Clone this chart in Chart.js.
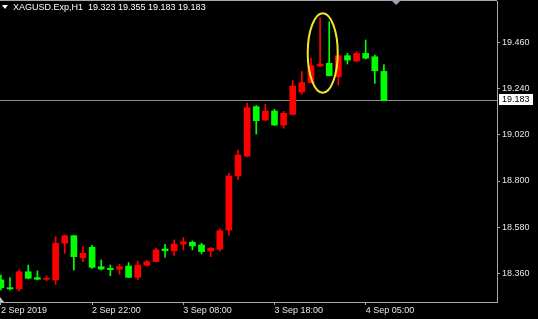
<!DOCTYPE html>
<html>
<head>
<meta charset="utf-8">
<script src="https://cdn.jsdelivr.net/npm/chart.js@4.4.1/dist/chart.umd.min.js"></script>
<style>
html, body { margin: 0; padding: 0; background: #000; }
#wrap { width: 538px; height: 319px; }
</style>
</head>
<body>
<div id="wrap"><canvas id="candleChart" width="538" height="319"></canvas></div>
<script>
// XAGUSD H1 bars
var symbolName = 'XAGUSD.Exp,H1';
var openPrices  = [18.328, 18.291, 18.285, 18.367, 18.339, 18.331, 18.328, 18.503, 18.539, 18.434, 18.484, 18.391, 18.383, 18.379, 18.394, 18.340, 18.398, 18.415, 18.476, 18.467, 18.499, 18.508, 18.495, 18.466, 18.474, 18.566, 18.824, 18.919, 19.155, 19.091, 19.134, 19.067, 19.118, 19.225, 19.269, 19.349, 19.362, 19.298, 19.398, 19.373, 19.409, 19.393, 19.323];
var highPrices  = [18.351, 18.339, 18.375, 18.399, 18.371, 18.347, 18.534, 18.542, 18.541, 18.487, 18.493, 18.423, 18.399, 18.403, 18.411, 18.418, 18.421, 18.479, 18.498, 18.519, 18.530, 18.514, 18.503, 18.483, 18.571, 18.837, 18.948, 19.171, 19.160, 19.166, 19.142, 19.132, 19.279, 19.322, 19.386, 19.579, 19.560, 19.401, 19.409, 19.417, 19.473, 19.401, 19.355];
var lowPrices   = [18.280, 18.280, 18.275, 18.333, 18.328, 18.323, 18.307, 18.455, 18.375, 18.415, 18.383, 18.375, 18.348, 18.355, 18.339, 18.328, 18.394, 18.414, 18.436, 18.444, 18.471, 18.471, 18.452, 18.439, 18.466, 18.542, 18.808, 18.915, 19.024, 19.089, 19.065, 19.052, 19.115, 19.214, 19.268, 19.346, 19.301, 19.258, 19.358, 19.368, 19.382, 19.266, 19.183];
var closePrices = [18.291, 18.285, 18.367, 18.336, 18.331, 18.336, 18.503, 18.539, 18.439, 18.455, 18.388, 18.380, 18.377, 18.391, 18.340, 18.399, 18.415, 18.471, 18.467, 18.499, 18.510, 18.490, 18.463, 18.479, 18.563, 18.824, 18.924, 19.150, 19.088, 19.134, 19.067, 19.123, 19.253, 19.270, 19.350, 19.358, 19.303, 19.398, 19.377, 19.409, 19.386, 19.326, 19.183];

var timeTickBars   = [0, 10, 20, 30, 40];
var timeTickLabels = ['2 Sep 2019', '2 Sep 22:00', '3 Sep 08:00', '3 Sep 18:00', '4 Sep 05:00'];
var priceTicks     = [18.360, 18.580, 18.800, 19.020, 19.240, 19.460];

// the yellow mark round the two long upper wicks (bar index / price)
var markCenter = { x: 35.29, y: 19.411 };
var markRadius = { x: 1.645, y: 0.1894 };

var UP_COLOR = '#ff0000';
var DOWN_COLOR = '#00ff00';
var AXIS_COLOR = '#a8a8a8';
var BID_LINE_COLOR = '#8c8c8c';
var TEXT_COLOR = '#e6e6e6';
var FONT = { family: '"Liberation Sans", Arial, sans-serif', size: 9 };

var bodies = [], wicks = [], colors = [];
for (var i = 0; i < openPrices.length; i++) {
    bodies.push({ x: i, y: [openPrices[i], closePrices[i]] });
    wicks.push({ x: i, y: [lowPrices[i], highPrices[i]] });
    colors.push(closePrices[i] >= openPrices[i] ? UP_COLOR : DOWN_COLOR);
}
var lastPrice = closePrices[closePrices.length - 1];

var terminalPlugin = {
    id: 'terminal',
    beforeDraw: function (chart) {
        var c = chart.ctx;
        c.save();
        c.fillStyle = '#000';
        c.fillRect(0, 0, chart.width, chart.height);
        c.restore();
    },
    beforeDatasetsDraw: function (chart) {
        var c = chart.ctx, a = chart.chartArea;
        var y = Math.floor(chart.scales.y.getPixelForValue(lastPrice)) + 0.5;
        c.save();
        c.strokeStyle = BID_LINE_COLOR;
        c.lineWidth = 1;
        c.beginPath();
        c.moveTo(a.left, y);
        c.lineTo(a.right, y);
        c.stroke();
        c.restore();
    },
    afterDraw: function (chart) {
        var c = chart.ctx, a = chart.chartArea;
        var xs = chart.scales.x, ys = chart.scales.y;
        c.save();

        // top frame line
        c.strokeStyle = AXIS_COLOR;
        c.lineWidth = 1;
        c.beginPath();
        c.moveTo(a.left, 0.5);
        c.lineTo(a.right, 0.5);
        c.stroke();

        // yellow ellipse
        var cx = xs.getPixelForValue(markCenter.x);
        var cy = ys.getPixelForValue(markCenter.y);
        var rx = xs.getPixelForValue(markCenter.x + markRadius.x) - cx;
        var ry = cy - ys.getPixelForValue(markCenter.y + markRadius.y);
        c.strokeStyle = '#f2e827';
        c.lineWidth = 2;
        c.beginPath();
        c.ellipse(cx, cy, rx, ry, 0, 0, Math.PI * 2);
        c.stroke();

        // bid price label
        var py = Math.floor(ys.getPixelForValue(lastPrice));
        c.fillStyle = '#ffffff';
        c.fillRect(a.right + 2, py - 6, 34, 11);
        c.fillStyle = '#000000';
        c.font = FONT.size + 'px ' + FONT.family;
        c.textBaseline = 'middle';
        c.textAlign = 'left';
        c.fillText(lastPrice.toFixed(3), a.right + 5, py);

        // symbol header
        c.fillStyle = '#ffffff';
        c.beginPath();
        c.moveTo(2, 5);
        c.lineTo(8, 5);
        c.lineTo(5, 9);
        c.closePath();
        c.fill();
        c.fillText(symbolName + '  ' + openPrices[openPrices.length - 1].toFixed(3) + ' ' +
            highPrices[highPrices.length - 1].toFixed(3) + ' ' +
            lowPrices[lowPrices.length - 1].toFixed(3) + ' ' + lastPrice.toFixed(3), 13, 8);

        // chart shift markers
        var sx = xs.getPixelForValue(43.33);
        c.fillStyle = '#9aa4b4';
        c.beginPath();
        c.moveTo(sx - 5, 0);
        c.lineTo(sx + 5, 0);
        c.lineTo(sx, 5);
        c.closePath();
        c.fill();
        c.fillStyle = '#c8c8c8';
        c.beginPath();
        c.moveTo(0, a.bottom - 5);
        c.lineTo(4, a.bottom);
        c.lineTo(0, a.bottom);
        c.closePath();
        c.fill();
        c.restore();
    }
};

var ctx = document.getElementById('candleChart').getContext('2d');

var chart = new Chart(ctx, {
    type: 'bar',
    data: {
        datasets: [{
            label: 'body',
            data: bodies,
            backgroundColor: colors,
            borderWidth: 0,
            barThickness: 6,
            minBarLength: 1,
            grouped: false
        }, {
            label: 'wick',
            data: wicks,
            backgroundColor: colors,
            borderWidth: 0,
            barThickness: 1,
            grouped: false
        }]
    },
    options: {
        responsive: false,
        animation: false,
        devicePixelRatio: 1,
        layout: { padding: { top: 1, left: 0, right: 0, bottom: 0 } },
        plugins: {
            legend: { display: false },
            tooltip: { enabled: false }
        },
        scales: {
            x: {
                type: 'linear',
                position: 'bottom',
                offset: false,
                min: -0.1,
                max: 54.4,
                afterBuildTicks: function (scale) {
                    scale.ticks = timeTickBars.map(function (v) { return { value: v }; });
                },
                afterFit: function (scale) {
                    scale.height = 17;
                    scale.paddingLeft = 0;
                    scale.paddingRight = 0;
                },
                ticks: {
                    autoSkip: false,
                    maxRotation: 0,
                    align: 'start',
                    padding: 0,
                    color: TEXT_COLOR,
                    font: FONT,
                    callback: function (v) { return timeTickLabels[timeTickBars.indexOf(v)]; }
                },
                grid: { offset: false, drawOnChartArea: false, drawTicks: true, tickLength: 3, color: AXIS_COLOR },
                border: { display: true, color: AXIS_COLOR }
            },
            y: {
                type: 'linear',
                position: 'right',
                min: 18.2226,
                max: 19.659,
                afterBuildTicks: function (scale) {
                    scale.ticks = priceTicks.map(function (v) { return { value: v }; });
                },
                afterFit: function (scale) {
                    scale.width = 41;
                    scale.paddingTop = 0;
                    scale.paddingBottom = 0;
                },
                ticks: {
                    padding: 2,
                    color: TEXT_COLOR,
                    font: FONT,
                    callback: function (v) { return Number(v).toFixed(3); }
                },
                grid: { drawOnChartArea: false, drawTicks: true, tickLength: 3, color: AXIS_COLOR },
                border: { display: true, color: AXIS_COLOR }
            }
        }
    },
    plugins: [terminalPlugin]
});
</script>
</body>
</html>
